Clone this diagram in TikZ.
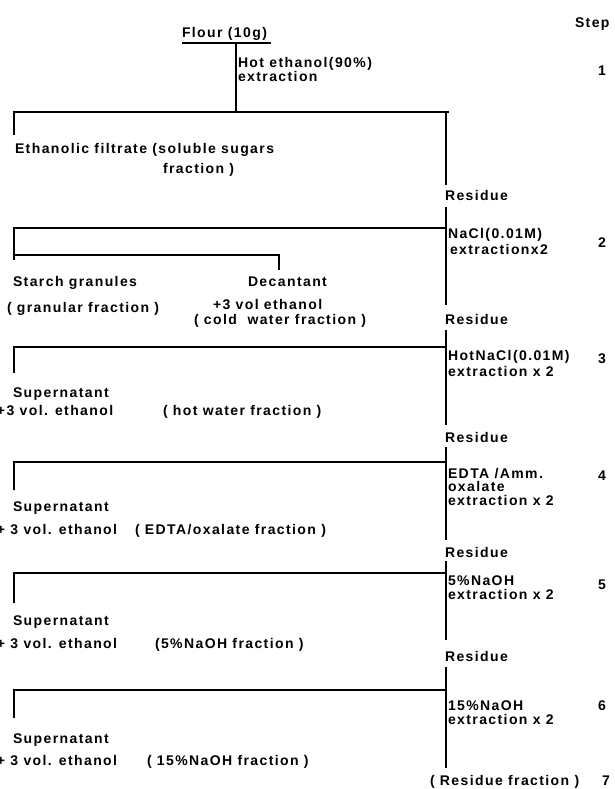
\documentclass[tikz,border=0pt]{standalone}
\usepackage{fontspec}
\setmainfont{Liberation Sans}[LetterSpace=10, BoldFont={Liberation Sans Bold}, BoldFeatures={LetterSpace=10}]
\tikzset{
  lbl/.style={anchor=base west, inner sep=0pt, outer sep=0pt,
    font=\fontsize{14}{15}\selectfont\bfseries},
  ln/.style={line width=1.7pt, line cap=butt, line join=miter}
}
\newcommand\lab[4]{\node[lbl] (#1) at (#2,{#3+5}) {#4};}
\begin{document}
\begin{tikzpicture}[x=1pt,y=-1pt]
\useasboundingbox (0,0) rectangle (614,789);
% ---- texts
\lab{step}{575}{23}{Step}
\lab{flour}{182}{33}{Flour (10g)}
\lab{hot1}{238}{63}{Hot ethanol(90\%)}
\lab{hot2}{238}{77}{extraction}
\lab{n1}{598}{71}{1}
\lab{eth1}{15}{148}{Ethanolic filtrate (soluble sugars}
\lab{eth2}{163}{168}{fraction )}
\lab{res1}{445}{195}{Residue}
\lab{nacl1}{448}{233}{NaCl(0.01M)}
\lab{nacl2}{450}{249}{extractionx2}
\lab{n2}{598}{242}{2}
\lab{starch}{13}{281}{Starch granules}
\lab{dec}{248}{281}{Decantant}
\lab{gran}{7}{307}{( granular fraction )}
\lab{dvol}{213}{304}{+3 vol ethanol}
\lab{cold}{194}{319}{( cold\ \ water fraction )}
\lab{res2}{445}{319}{Residue}
\lab{hnacl1}{448}{355}{HotNaCl(0.01M)}
\lab{hnacl2}{448}{371}{extraction x 2}
\lab{n3}{598}{358}{3}
\lab{sup3}{13}{392}{Supernatant}
\lab{vol3}{-3}{410}{+3 vol. ethanol}
\lab{frac3}{163}{410}{( hot water fraction )}
\lab{res3}{445}{437}{Residue}
\lab{edta1}{448}{473}{EDTA /Amm.}
\lab{edta2}{448}{486.5}{oxalate}
\lab{edta3}{448}{500}{extraction x 2}
\lab{n4}{598}{475}{4}
\lab{sup4}{13}{506}{Supernatant}
\lab{vol4}{-3}{529}{+ 3 vol. ethanol}
\lab{frac4}{135}{529}{( EDTA/oxalate fraction )}
\lab{res4}{445}{552}{Residue}
\lab{naoha}{448}{580}{5\%NaOH}
\lab{naohb}{448}{594}{extraction x 2}
\lab{n5}{598}{584}{5}
\lab{sup5}{13}{620}{Supernatant}
\lab{vol5}{-3}{643}{+ 3 vol. ethanol}
\lab{frac5}{155}{643}{(5\%NaOH fraction )}
\lab{res5}{445}{656}{Residue}
\lab{naohc}{448}{705}{15\%NaOH}
\lab{naohd}{448}{719}{extraction x 2}
\lab{n6}{598}{705}{6}
\lab{sup6}{13}{738}{Supernatant}
\lab{vol6}{-3}{760}{+ 3 vol. ethanol}
\lab{frac6}{147}{760}{( 15\%NaOH fraction )}
\lab{resf}{430}{780}{( Residue fraction )}
\lab{n7}{602}{780}{7}
% ---- junction coordinates
\coordinate (fa) at (182,43);
\coordinate (fb) at (271,43);
\coordinate (fj) at (236,43);
\coordinate (s1j) at (236,112);
\coordinate (s1l) at (14,135);
\coordinate (s1r) at (449,112);
\coordinate (s1t) at (446,112);
\coordinate (s1b) at (446,185);
\coordinate (s2l) at (14,260);
\coordinate (s2h) at (446,228);
\coordinate (s2t) at (446,207);
\coordinate (s2b) at (446,305);
\coordinate (s2i) at (14,255);
\coordinate (s2d) at (279,270);
\coordinate (s3l) at (14,373);
\coordinate (s3h) at (446,347);
\coordinate (s3t) at (446,330);
\coordinate (s3b) at (446,425);
\coordinate (s4l) at (14,490);
\coordinate (s4h) at (446,462);
\coordinate (s4t) at (446,447);
\coordinate (s4b) at (446,540);
\coordinate (s5l) at (14,603);
\coordinate (s5h) at (446,573);
\coordinate (s5t) at (446,561);
\coordinate (s5b) at (446,640);
\coordinate (s6l) at (14,718);
\coordinate (s6h) at (446,690);
\coordinate (s6t) at (446,667);
\coordinate (s6b) at (446,768);
% ---- lines
\draw[ln] (fa) -- (fb);
\draw[ln] (fj) -- (s1j);
\draw[ln] (s1l) |- (s1r);
\draw[ln] (s1t) -- (s1b);
\draw[ln] (s2l) |- (s2h);
\draw[ln] (s2t) -- (s2b);
\draw[ln] (s2i) -| (s2d);
\draw[ln] (s3l) |- (s3h);
\draw[ln] (s3t) -- (s3b);
\draw[ln] (s4l) |- (s4h);
\draw[ln] (s4t) -- (s4b);
\draw[ln] (s5l) |- (s5h);
\draw[ln] (s5t) -- (s5b);
\draw[ln] (s6l) |- (s6h);
\draw[ln] (s6t) -- (s6b);
\end{tikzpicture}
\end{document}
